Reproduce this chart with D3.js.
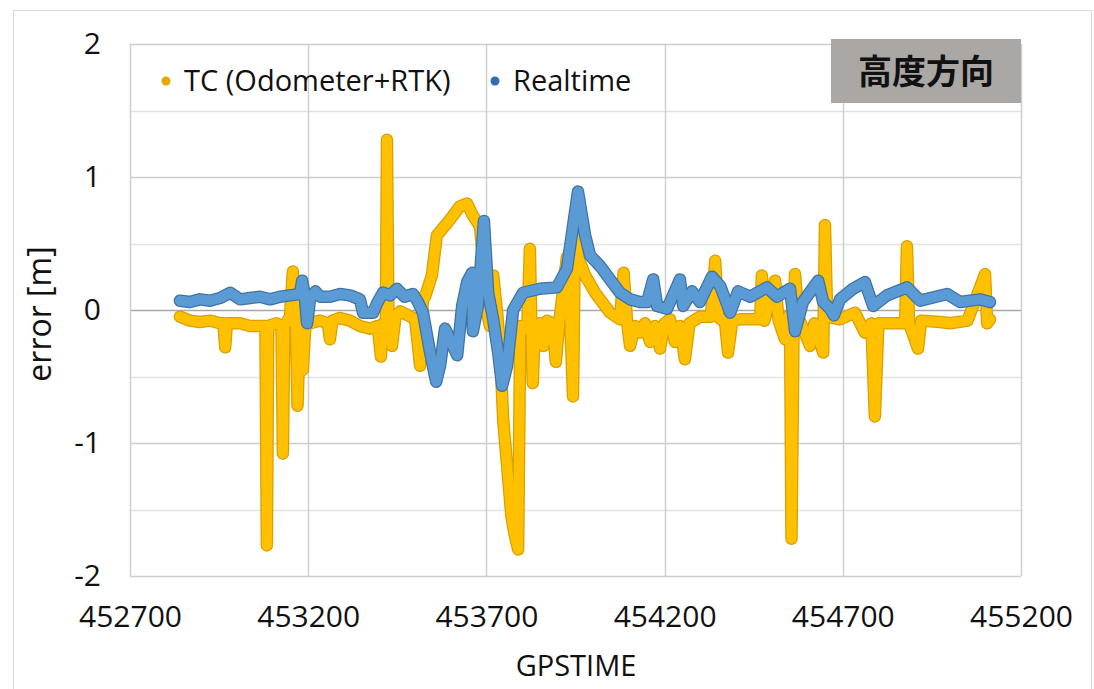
<!DOCTYPE html>
<html>
<head>
<meta charset="utf-8">
<script src="https://cdn.jsdelivr.net/npm/d3@7"></script>
<style>
  html, body { margin: 0; padding: 0; background: #ffffff; }
  svg { display: block; }
  text { font-family: "Open Sans", "Noto Sans", sans-serif; fill: #111; }
</style>
</head>
<body>
<svg id="chart" width="1094" height="689"></svg>
<script>
// ---- data ----
const xTicks = [452700, 453200, 453700, 454200, 454700, 455200];
const yTicks = [-2, -1, 0, 1, 2];
const yMinorGrid = [-1.5, -0.5, 0.5, 1.5];
const seriesNames = ["TC (Odometer+RTK)", "Realtime"];

// TC (Odometer+RTK): GPS time [s] and height error [m]
const tcTime = [
  452840, 452868, 452896, 452924, 452953, 452962, 452967, 452972, 453009, 453037,
  453060, 453080, 453084, 453088, 453110, 453125, 453129, 453133, 453149, 453157,
  453163, 453166, 453170, 453177, 453185, 453192, 453205, 453233, 453255, 453261,
  453268, 453289, 453317, 453345, 453373, 453395, 453404, 453410, 453418, 453421,
  453425, 453435, 453445, 453458, 453480, 453500, 453514, 453522, 453528, 453547,
  453561, 453598, 453626, 453646, 453662, 453682, 453691, 453702, 453710, 453719,
  453730, 453738, 453747, 453770, 453780, 453789, 453795, 453803, 453815, 453822,
  453826, 453830, 453836, 453850, 453860, 453870, 453885, 453895, 453905, 453926,
  453935, 453943, 453949, 453957, 453977, 454005, 454047, 454075, 454085, 454095,
  454103, 454117, 454131, 454145, 454159, 454173, 454187, 454200, 454215, 454229,
  454243, 454257, 454270, 454299, 454330, 454342, 454350, 454370, 454378, 454390,
  454412, 454440, 454468, 454473, 454480, 454510, 454520, 454538, 454545, 454552,
  454556, 454562, 454566, 454575, 454608, 454620, 454645, 454650, 454656, 454692,
  454734, 454762, 454780, 454790, 454800, 454840, 454875, 454880, 454886, 454911,
  454920, 454973, 455000, 455050, 455099, 455105, 455113
];
const tcError = [
  -0.05, -0.08, -0.09, -0.08, -0.10, -0.10, -0.28, -0.10, -0.10, -0.12,
  -0.12, -0.12, -1.77, -0.12, -0.10, -0.12, -1.08, -0.12, -0.05, 0.29,
  -0.05, -0.15, -0.72, -0.12, -0.45, -0.12, -0.10, -0.08, -0.10, -0.22,
  -0.08, -0.06, -0.08, -0.12, -0.14, -0.12, -0.35, -0.10, -0.10, 1.28,
  -0.05, -0.27, -0.05, -0.01, -0.04, -0.07, -0.42, 0.10, 0.10, 0.26,
  0.56, 0.68, 0.78, 0.80, 0.71, 0.63, 0.36, -0.02, -0.12, 0.26,
  -0.02, -0.27, -0.82, -1.55, -1.70, -1.80, -0.12, -0.15, -0.12, 0.46,
  -0.12, -0.55, -0.12, -0.10, -0.27, -0.08, -0.10, -0.39, -0.08, 0.40,
  -0.05, -0.65, 0.71, 0.40, 0.26, 0.13, -0.02, -0.07, 0.28, -0.10,
  -0.27, -0.12, -0.17, -0.10, -0.24, -0.12, -0.29, -0.10, -0.07, -0.24,
  -0.12, -0.37, -0.10, -0.05, -0.05, 0.37, -0.05, -0.10, -0.32, -0.08,
  -0.07, -0.07, -0.07, 0.26, -0.08, 0.22, -0.08, -0.22, -0.05, -0.10,
  -1.72, -0.10, 0.27, -0.05, -0.27, -0.10, -0.32, 0.64, -0.05, -0.07,
  -0.02, -0.17, -0.10, -0.80, -0.10, -0.10, -0.10, 0.48, -0.10, -0.29,
  -0.08, -0.09, -0.10, -0.08, 0.27, -0.10, -0.07
];

// Realtime: GPS time [s] and height error [m]
const rtTime = [
  452840, 452868, 452896, 452924, 452953, 452981, 453009, 453037, 453065, 453093,
  453121, 453149, 453177, 453183, 453190, 453197, 453205, 453220, 453233, 453261,
  453289, 453317, 453345, 453354, 453382, 453395, 453410, 453430, 453449, 453470,
  453494, 453508, 453522, 453542, 453559, 453570, 453584, 453598, 453618, 453632,
  453646, 453660, 453662, 453676, 453693, 453705, 453719, 453733, 453744, 453758,
  453775, 453803, 453850, 453898, 453926, 453943, 453957, 453977, 453991, 454019,
  454047, 454075, 454103, 454131, 454151, 454168, 454179, 454207, 454243, 454252,
  454277, 454299, 454333, 454356, 454384, 454406, 454440, 454487, 454515, 454552,
  454566, 454588, 454631, 454645, 454664, 454675, 454692, 454729, 454762, 454785,
  454824, 454880, 454917, 454993, 455029, 455085, 455113
];
const rtError = [
  0.07, 0.06, 0.08, 0.07, 0.09, 0.13, 0.08, 0.09, 0.10, 0.08,
  0.10, 0.11, 0.12, 0.22, 0.12, -0.10, 0.08, 0.14, 0.10, 0.10,
  0.12, 0.11, 0.08, -0.02, -0.02, 0.06, 0.13, 0.11, 0.16, 0.10,
  0.12, 0.06, -0.02, -0.32, -0.54, -0.42, -0.14, -0.22, -0.34, 0.03,
  0.21, 0.28, -0.16, 0.03, 0.67, 0.13, -0.07, -0.32, -0.57, -0.42,
  0.00, 0.13, 0.16, 0.17, 0.31, 0.63, 0.89, 0.56, 0.41, 0.33,
  0.23, 0.13, 0.08, 0.06, 0.06, 0.23, 0.03, 0.01, 0.23, 0.03,
  0.14, 0.06, 0.25, 0.18, -0.02, 0.14, 0.10, 0.17, 0.10, 0.16,
  -0.16, 0.06, 0.22, 0.06, 0.01, -0.04, 0.08, 0.16, 0.21, 0.03,
  0.11, 0.17, 0.07, 0.12, 0.06, 0.08, 0.06
];

// ---- layout ----
const svg = d3.select("#chart");
const plot = { left: 130, right: 1021, top: 44, bottom: 576 };

const x = d3.scaleLinear().domain([452700, 455200]).range([plot.left, plot.right]);
const y = d3.scaleLinear().domain([-2, 2]).range([plot.bottom, plot.top]);

// outer chart frame
svg.append("rect")
  .attr("x", 13.5).attr("y", 10.5)
  .attr("width", 1078).attr("height", 700)
  .attr("fill", "none").attr("stroke", "#d9d9d9").attr("stroke-width", 1);

// gridlines
const grid = svg.append("g");
grid.selectAll("line.minor").data(yMinorGrid).join("line")
  .attr("x1", plot.left).attr("x2", plot.right)
  .attr("y1", d => Math.round(y(d)) + 0.5).attr("y2", d => Math.round(y(d)) + 0.5)
  .attr("stroke", "#e2e2e2").attr("stroke-width", 1.5);
grid.selectAll("line.major").data(yTicks).join("line")
  .attr("x1", plot.left).attr("x2", plot.right)
  .attr("y1", d => Math.round(y(d)) + 0.5).attr("y2", d => Math.round(y(d)) + 0.5)
  .attr("stroke", d => d === 0 ? "#a8a8a8" : "#cdcdcd").attr("stroke-width", 1.5);
grid.selectAll("line.vx").data(xTicks).join("line")
  .attr("x1", d => Math.round(x(d)) + 0.5).attr("x2", d => Math.round(x(d)) + 0.5)
  .attr("y1", plot.top).attr("y2", plot.bottom)
  .attr("stroke", "#cfcfcf").attr("stroke-width", 1.5);

// axes (labels only, lines drawn by the grid)
const yAxis = d3.axisLeft(y).tickValues(yTicks).tickSize(0).tickPadding(0)
  .tickFormat(d => String(d));
const gy = svg.append("g").attr("transform", "translate(101,0)").call(yAxis);
gy.select(".domain").remove();
gy.selectAll("text").style("font-size", "30px").attr("fill", "#111").attr("dy", "0.33em");

const xAxis = d3.axisBottom(x).tickValues(xTicks).tickSize(0).tickPadding(0)
  .tickFormat(d => String(d));
const gx = svg.append("g").attr("transform", "translate(0,606)").call(xAxis);
gx.select(".domain").remove();
gx.selectAll("text").style("font-size", "30px").attr("fill", "#111");

// axis titles
svg.append("text")
  .attr("x", 576).attr("y", 676)
  .attr("text-anchor", "middle")
  .style("font-size", "29px")
  .text("GPSTIME");
svg.append("text")
  .attr("transform", "translate(51,314) rotate(-90)")
  .attr("text-anchor", "middle")
  .style("font-size", "32px")
  .text("error [m]");

// series
const tcData = tcTime.map((t, i) => [t, tcError[i]]);
const rtData = rtTime.map((t, i) => [t, rtError[i]]);
const line = d3.line().x(d => x(d[0])).y(d => y(d[1]));

const series = [
  { data: tcData, fill: "#ffc000", edge: "#d9a000" },
  { data: rtData, fill: "#5b9bd5", edge: "#3f73a6" }
];
const marks = svg.append("g");
series.forEach(s => {
  marks.append("path")
    .attr("d", line(s.data))
    .attr("fill", "none").attr("stroke", s.edge)
    .attr("stroke-width", 12.5)
    .attr("stroke-linejoin", "round").attr("stroke-linecap", "round");
  marks.append("path")
    .attr("d", line(s.data))
    .attr("fill", "none").attr("stroke", s.fill)
    .attr("stroke-width", 10)
    .attr("stroke-linejoin", "round").attr("stroke-linecap", "round");
});

// legend
const legend = svg.append("g");
const legendItems = [
  { name: seriesNames[0], color: "#e6a800", dotX: 166, textX: 184 },
  { name: seriesNames[1], color: "#2e6fb0", dotX: 495, textX: 513 }
];
legendItems.forEach(it => {
  legend.append("circle").attr("cx", it.dotX).attr("cy", 81).attr("r", 4.5).attr("fill", it.color);
  legend.append("text")
    .attr("x", it.textX).attr("y", 91)
    .style("font-size", "29px")
    .text(it.name);
});

// direction label box
svg.append("rect")
  .attr("x", 831).attr("y", 39).attr("width", 190).attr("height", 64)
  .attr("fill", "#aba7a5");
svg.append("text")
  .attr("x", 926).attr("y", 84)
  .attr("text-anchor", "middle")
  .style("font-family", "'Noto Sans CJK JP', 'Noto Sans CJK SC', sans-serif")
  .style("font-weight", "bold")
  .style("font-size", "34px")
  .attr("fill", "#111")
  .text("高度方向");
</script>
</body>
</html>
